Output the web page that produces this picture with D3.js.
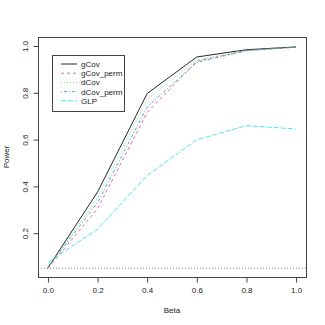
<html>
<head>
<meta charset="utf-8">
<style type="text/css">
    body {margin: 0; background: white;}
    text {font-family: "Liberation Sans", Arial, sans-serif;}
</style>
</head>
<body>
<script src="https://d3js.org/d3.v7.min.js"></script>
<script>
    var beta = [0.0, 0.2, 0.4, 0.6, 0.8, 1.0];
    var gCov      = [0.052, 0.376, 0.797, 0.953, 0.984, 0.996];
    var gCov_perm = [0.050, 0.305, 0.716, 0.935, 0.980, 0.995];
    var dCov      = [0.052, 0.350, 0.772, 0.940, 0.982, 0.995];
    var dCov_perm = [0.055, 0.330, 0.740, 0.930, 0.980, 0.995];
    var GLP       = [0.075, 0.217, 0.447, 0.599, 0.660, 0.645];
    var seriesNames = ["gCov", "gCov_perm", "dCov", "dCov_perm", "GLP"];
    var xTicks = [0.0, 0.2, 0.4, 0.6, 0.8, 1.0];
    var yTicks = [0.2, 0.4, 0.6, 0.8, 1.0];
    var alpha = 0.05;

    var series = [gCov, gCov_perm, dCov, dCov_perm, GLP];
    var colors = ["#000000", "#DF536B", "#61D04F", "#2297E6", "#28E2E5"];
    var dashes = [null, "3,3", "1,2", "1,2,3,2", "5,2"];

    var w = 325, h = 325;
    var pLeft = 38, pRight = 306, pTop = 37, pBottom = 277;

    var svg = d3.select("body").append("svg").attr("width", w).attr("height", h);

    // R style 4% extension of the data range
    var x = d3.scaleLinear().domain([-0.04, 1.04]).range([pLeft, pRight]);
    var y = d3.scaleLinear().domain([0.0128, 1.0384]).range([pBottom, pTop]);

    var line = d3.line()
        .x(function(d, i){ return x(beta[i]); })
        .y(function(d){ return y(d); });

    // significance level
    svg.append("line")
        .attr("x1", pLeft).attr("x2", pRight)
        .attr("y1", y(alpha)).attr("y2", y(alpha))
        .attr("stroke", "#777").attr("stroke-width", 1)
        .attr("stroke-dasharray", "1,2");

    svg.selectAll("path.series")
        .data(series)
        .enter()
        .append("path")
        .attr("class", "series")
        .attr("d", function(d){ return line(d); })
        .attr("fill", "none")
        .attr("stroke", function(d, i){ return colors[i]; })
        .attr("stroke-width", 0.85)
        .attr("stroke-dasharray", function(d, i){ return dashes[i]; });

    // box
    svg.append("rect")
        .attr("x", pLeft + 0.5).attr("y", pTop + 0.5)
        .attr("width", pRight - pLeft).attr("height", pBottom - pTop)
        .attr("fill", "none").attr("stroke", "#444");

    var xAxis = d3.axisBottom(x).tickValues(xTicks).tickSize(5).tickPadding(5)
        .tickFormat(d3.format(".1f"));
    var gx = svg.append("g").attr("transform", "translate(0," + (pBottom + 0.5) + ")").call(xAxis);
    gx.select(".domain").attr("d", "M" + x(0) + ",0H" + x(1)).attr("stroke", "#444");
    gx.selectAll(".tick line").attr("stroke", "#444");
    gx.selectAll("text").attr("font-size", "8px").attr("font-family", null).attr("fill", "#222");

    var yAxis = d3.axisLeft(y).tickValues(yTicks).tickSize(5).tickPadding(0)
        .tickFormat(d3.format(".1f"));
    var gy = svg.append("g").attr("transform", "translate(" + (pLeft + 0.5) + ",0)").call(yAxis);
    gy.select(".domain").attr("d", "M0," + y(0.2) + "V" + y(1.0)).attr("stroke", "#444");
    gy.selectAll(".tick line").attr("stroke", "#444");
    gy.selectAll("text")
        .attr("font-size", "8px").attr("font-family", null).attr("fill", "#222")
        .attr("x", null).attr("dy", null)
        .attr("text-anchor", "middle")
        .attr("transform", "translate(-11,0) rotate(-90)");

    svg.append("text")
        .attr("x", (pLeft + pRight) / 2).attr("y", 313)
        .attr("text-anchor", "middle").attr("font-size", "8px").attr("fill", "#222")
        .text("Beta");

    svg.append("text")
        .attr("transform", "translate(9," + ((pTop + pBottom) / 2) + ") rotate(-90)")
        .attr("text-anchor", "middle").attr("font-size", "8px").attr("fill", "#222")
        .text("Power");

    // legend
    var lg = svg.append("g");
    lg.append("rect")
        .attr("x", 52.5).attr("y", 55.5).attr("width", 72).attr("height", 56)
        .attr("fill", "white").attr("stroke", "#444");
    var items = lg.selectAll("g.item")
        .data(seriesNames)
        .enter()
        .append("g")
        .attr("class", "item")
        .attr("transform", function(d, i){ return "translate(0," + (64 + i * 9.2) + ")"; });
    items.append("line")
        .attr("x1", 61).attr("x2", 77).attr("y1", 0).attr("y2", 0)
        .attr("stroke", function(d, i){ return colors[i]; })
        .attr("stroke-width", 0.85)
        .attr("stroke-dasharray", function(d, i){ return dashes[i]; });
    items.append("text")
        .attr("x", 81).attr("y", 3)
        .attr("font-size", "8px").attr("fill", "#222")
        .text(function(d){ return d; });
</script>
</body>
</html>
